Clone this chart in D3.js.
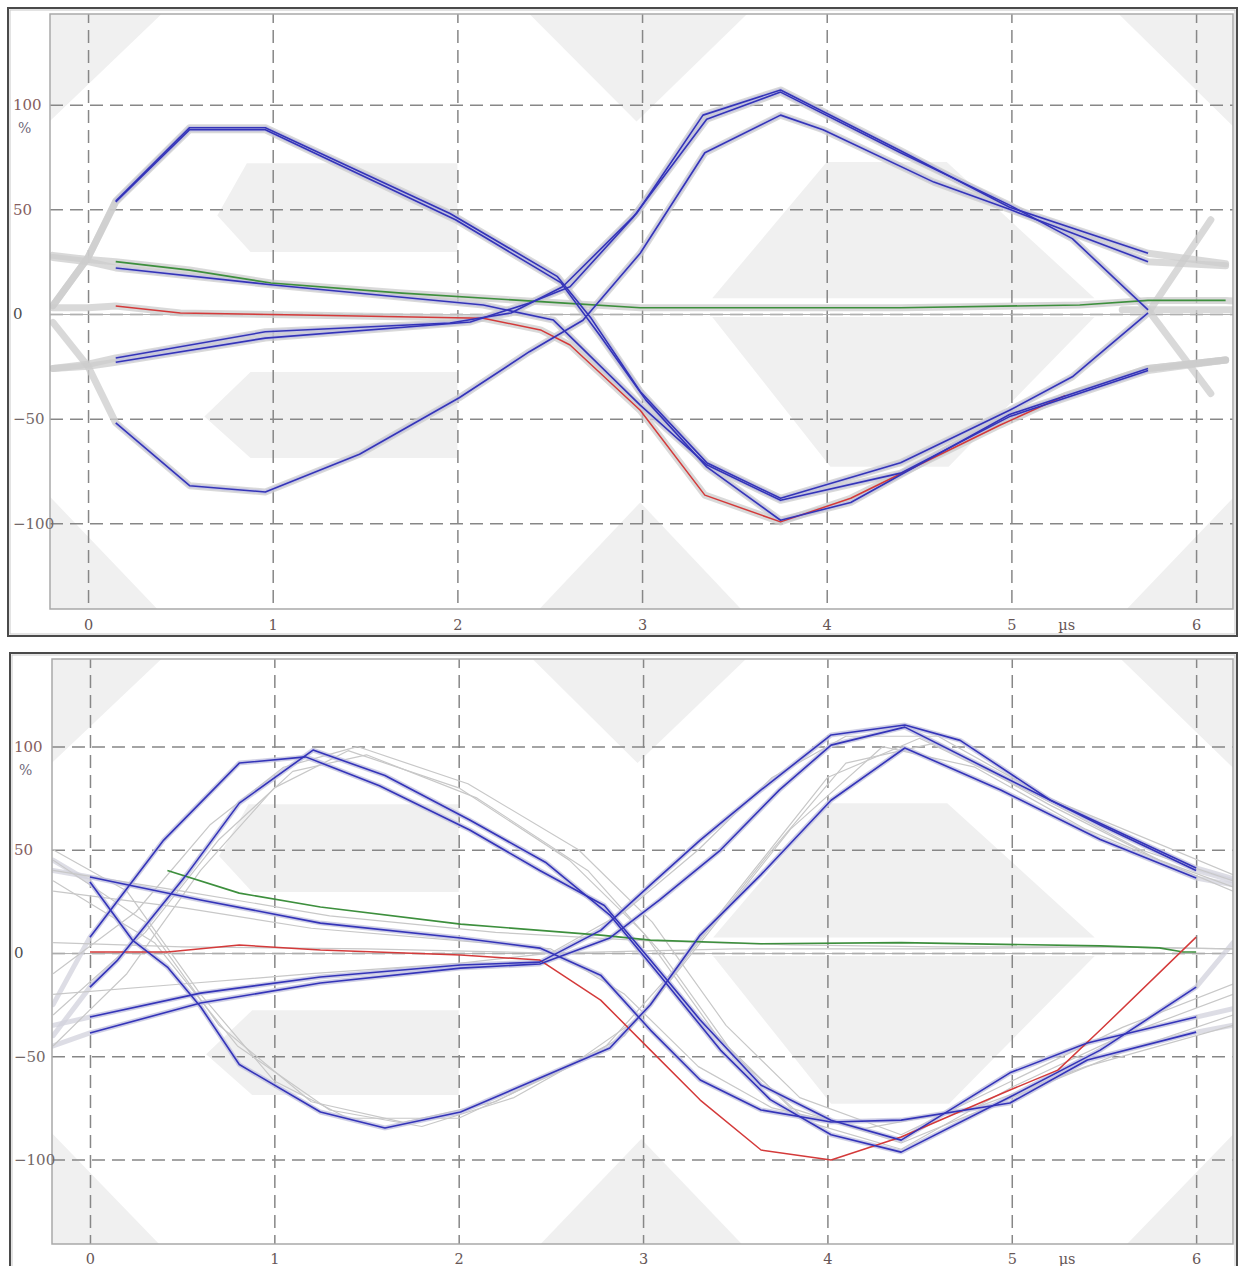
<!DOCTYPE html>
<html><head><meta charset="utf-8">
<script src="https://cdn.jsdelivr.net/npm/d3@7"></script>
<style>body{margin:0;background:#fff}svg{display:block}</style>
</head><body>
<svg id="c" width="1238" height="1266"></svg>
<script>
// ---------------- DATA ----------------
const xTickValues = [0, 1, 2, 3, 4, 5, 6];
const yTickValues = [100, 50, 0, -50, -100];
const xUnitLabel = "µs";
const yUnitLabel = "%";
const xDomain = [-0.206, 6.2];

// eye-mask regions (µs, %)
const maskTopLeft = [[-0.22,146],[0.43,146],[-0.22,91]];
const maskBottomLeft = [[-0.22,-146],[0.43,-146],[-0.22,-86]];
const maskTopMid = [[2.36,146],[3.60,146],[2.97,92]];
const maskBottomMid = [[2.39,-146],[3.59,-146],[2.99,-90]];
const maskTopRight = [[5.55,146],[6.22,146],[6.22,88]];
const maskBottomRight = [[5.57,-146],[6.22,-146],[6.22,-86]];
const maskEyeLeftUpper = [[0.86,72],[2.0,72],[2.0,29.6],[0.88,29.6],[0.70,47]];
const maskEyeLeftLower = [[0.88,-27.7],[2.0,-27.7],[2.0,-68.8],[0.88,-68.8],[0.63,-49]];
const maskEyeRightUpper = [[3.38,7.5],[4.0,72.6],[4.65,72.6],[5.45,7.5]];
const maskEyeRightLower = [[3.38,-1.4],[5.45,-1.4],[4.66,-73],[4.02,-73]];

// ---- top panel traces ----
const topBlueA = [[0.15,54],[0.55,89],[0.96,89],[1.96,48],[2.54,18],[2.72,-1.5],[2.99,-37],[3.35,-71],[3.75,-88],[4.40,-71],[4.99,-46],[5.33,-30],[5.74,0.5]];
const topBlueB = [[0.15,53.5],[0.55,88],[0.96,88],[1.99,45],[2.56,15],[2.77,-10],[3.02,-41],[3.35,-73],[3.75,-98.5],[4.13,-90],[4.99,-48],[5.74,-26]];
const topBlueC = [[0.15,22],[0.99,14],[2.14,4.3],[2.52,-2.9],[2.66,-15],[2.99,-43.5],[3.35,-72],[3.75,-89],[4.40,-76],[4.99,-49],[5.74,-27]];
const topBlueD = [[0.15,-21],[0.96,-8.5],[1.96,-4.3],[2.29,0.5],[2.57,13],[2.97,48],[3.33,95],[3.75,107],[4.40,78],[4.99,51],[5.74,29]];
const topBlueE = [[0.15,-23],[0.96,-11.5],[2.07,-3.8],[2.39,5.3],[2.61,13],[2.95,46],[3.35,93],[3.75,106],[4.40,77],[4.99,52],[5.33,36],[5.74,2]];
const topBlueF = [[0.15,-52],[0.55,-82],[0.96,-85],[1.47,-67],[2.01,-40],[2.39,-18],[2.68,-3],[2.99,29],[3.34,77],[3.75,95],[3.98,88],[4.58,63],[4.99,50],[5.74,25]];
const topRed = [[0.15,3.8],[0.5,0.5],[1.15,-0.5],[2.14,-2],[2.45,-7.6],[2.61,-14.8],[2.99,-46],[3.34,-86.5],[3.75,-99.3],[4.13,-88],[4.94,-53],[5.29,-39]];
const topGreen = [[0.15,25],[0.55,21],[0.99,14.8],[1.7,10],[2.56,5.3],[2.99,3],[3.75,3],[4.40,3],[5.37,4.3],[5.74,6.5],[6.16,6.5]];

const topGreyA = [[-0.19,4],[0,27],...topBlueA,[6.08,45]];
const topGreyB = [[-0.19,4],[0,27],...topBlueB,[6.16,-22]];
const topGreyC = [[-0.19,27],[0,25],...topBlueC,[6.16,-22]];
const topGreyD = [[-0.19,-26],[0,-24],...topBlueD,[6.16,24]];
const topGreyE = [[-0.19,-26],[0,-25],...topBlueE,[6.08,-38]];
const topGreyF = [[-0.19,-4],[0,-25],...topBlueF,[6.16,23]];
const topGreyRed = [[-0.19,3],[0,3],...topRed,[5.74,-26],[6.16,-22]];
const topGreyGreen = [[-0.19,28],[0,26],...topGreen,[6.22,6]];
const topGreyFlat = [[5.6,2],[6.22,2]];

// ---- bottom panel traces ----
const botBlueA = [[0,7.7],[0.40,54.7],[0.81,92],[1.17,95],[1.57,81],[2.06,59.6],[2.44,40],[2.79,23],[3.04,-3.4],[3.31,-32.4],[3.64,-64],[4.02,-81],[4.40,-90.6],[4.99,-58],[5.41,-43.6],[6.0,-31]];
const botBlueB = [[0,-16.5],[0.15,-3.4],[0.53,38.7],[0.81,72.6],[1.21,98.3],[1.60,86],[2.06,64.4],[2.47,44],[2.82,18.4],[3.09,-10.7],[3.42,-47],[3.69,-71],[4.02,-88],[4.40,-96.4],[4.99,-69.7],[5.48,-47],[6.0,-16.5]];
const botBlueC = [[0,34.4],[0.23,6.3],[0.42,-6.8],[0.60,-26],[0.81,-54],[1.25,-77],[1.60,-84.7],[2.01,-77],[2.44,-60.5],[2.82,-46],[3.04,-25],[3.31,8.7],[3.64,38],[4.02,74],[4.42,99.3],[4.94,79],[5.48,55],[6.0,36.3]];
const botBlueD = [[0,-31],[0.60,-19.4],[1.25,-11.6],[2.01,-5.8],[2.44,-4.4],[2.77,11],[3.04,33],[3.31,54.7],[3.64,79],[4.02,105.6],[4.42,110.4],[4.72,103],[5.21,74],[6.0,41.2]];
const botBlueE = [[0,-38.7],[0.60,-24.2],[1.25,-14.5],[2.01,-7.3],[2.44,-5.3],[2.82,7.3],[3.09,25.7],[3.42,49.9],[3.74,79],[4.02,100.7],[4.42,109.4],[4.94,86],[5.48,62],[6.0,40]];
const botBlueF = [[0,36.8],[0.60,25.7],[1.25,14.5],[2.01,7.3],[2.44,2.4],[2.77,-10.7],[3.04,-37.3],[3.31,-61.5],[3.64,-76],[4.02,-81.8],[4.40,-80.9],[4.99,-72.6],[5.41,-51.8],[6.0,-38.3]];
const botRed = [[0,0.5],[0.42,0.5],[0.81,3.9],[1.25,1.5],[2.01,-1],[2.44,-3.4],[2.77,-22.8],[3.04,-47],[3.31,-71.2],[3.64,-95.4],[4.02,-100.2],[4.40,-89.1],[4.99,-66.3],[5.25,-56.7],[5.48,-37.3],[6.0,7.7]];
const botGreen = [[0.42,40],[0.81,29],[1.25,22.3],[2.01,14],[2.44,11],[2.77,8.7],[3.04,6.3],[3.64,4.5],[4.40,5],[5.48,3.5],[5.8,2.5],[5.93,0.5],[6.0,0.5]];

const botGreyA = [[-0.2,-25],...botBlueA,[6.2,-27]];
const botGreyB = [[-0.2,-40],...botBlueB,[6.2,5]];
const botGreyC = [[-0.2,45],...botBlueC,[6.2,33]];
const botGreyD = [[-0.2,-35],...botBlueD,[6.2,36]];
const botGreyE = [[-0.2,-45],...botBlueE,[6.2,35]];
const botGreyF = [[-0.2,40],...botBlueF,[6.2,-35]];
const botGreyExtra1 = [[-0.2,-45],[0.2,-10],[0.6,40],[1.0,80],[1.4,98],[2.0,80],[2.6,45],[3.0,10],[3.4,-40],[3.8,-75],[4.4,-92],[5.0,-70],[5.6,-48],[6.2,-30]];
const botGreyExtra2 = [[-0.2,-30],[0.3,10],[0.7,55],[1.1,88],[1.5,96],[2.1,75],[2.7,40],[3.1,0],[3.5,-50],[3.9,-82],[4.4,-95],[5.0,-65],[5.6,-40],[6.2,-20]];
const botGreyExtra3 = [[-0.2,50],[0.2,30],[0.6,-20],[1.0,-62],[1.4,-80],[2.0,-80],[2.6,-55],[3.0,-30],[3.4,15],[3.8,60],[4.3,100],[4.8,90],[5.4,60],[6.2,30]];
const botGreyExtra4 = [[-0.2,45],[0.3,15],[0.7,-35],[1.2,-72],[1.7,-82],[2.2,-72],[2.8,-45],[3.2,-5],[3.6,40],[4.0,85],[4.5,104],[5.1,78],[5.7,50],[6.2,35]];
const botGreyExtra5 = [[-0.2,30],[0.5,22],[1.2,12],[2.0,6],[2.5,2],[2.9,-20],[3.3,-55],[3.7,-75],[4.2,-85],[4.8,-75],[5.4,-55],[6.2,-35]];
const botGreyExtra6 = [[-0.2,-20],[0.5,-15],[1.2,-10],[2.0,-5],[2.5,0],[2.9,20],[3.3,50],[3.7,85],[4.1,105],[4.6,105],[5.2,75],[6.2,38]];
const botGreyExtra7 = [[-0.2,5],[0.5,3],[1.5,2],[2.5,0],[3.5,2],[4.5,2],[5.5,3],[6.2,2]];
const botGreyExtra8 = [[-0.2,40],[0.5,30],[1.3,18],[2.2,10],[3.0,6],[3.8,4],[4.6,3],[5.5,3],[6.2,2]];
const botGreyExtra9 = [[-0.2,-10],[0.25,20],[0.65,62],[1.05,90],[1.45,100],[2.05,82],[2.65,50],[3.05,15],[3.45,-35],[3.85,-70],[4.4,-88],[5.0,-62],[5.6,-36],[6.2,-15]];
const botGreyExtra10 = [[-0.2,35],[0.35,5],[0.8,-45],[1.3,-76],[1.8,-84],[2.3,-70],[2.9,-40],[3.3,5],[3.7,50],[4.1,92],[4.6,102],[5.2,72],[5.8,45],[6.2,32]];

// ---------------- DRAWING ----------------
const svg = d3.select("#c");
const FONT = "'DejaVu Serif', serif";

function drawPanel(o) {
  const g = svg.append("g");
  const x = d3.scaleLinear().domain(xDomain).range([o.plot.x0, o.plot.x1]);
  const y = d3.scaleLinear().domain(o.yDomain).range([o.plot.y1, o.plot.y0]);
  const line = d3.line().x(d => x(d[0])).y(d => y(d[1]));
  const pw = o.plot.x1 - o.plot.x0, ph = o.plot.y1 - o.plot.y0;

  g.append("rect").attr("x", o.frame.x0).attr("y", o.frame.y0)
    .attr("width", o.frame.x1 - o.frame.x0).attr("height", o.frame.y1 - o.frame.y0)
    .attr("fill", "#fff").attr("stroke", "#4a4a4a").attr("stroke-width", 2);
  g.append("rect").attr("x", o.frame.x0 + 2).attr("y", o.frame.y0 + 2)
    .attr("width", o.frame.x1 - o.frame.x0 - 4).attr("height", o.frame.y1 - o.frame.y0 - 4)
    .attr("fill", "none").attr("stroke", "#c8c8c8").attr("stroke-width", 1);

  svg.append("defs").append("clipPath").attr("id", o.id)
    .append("rect").attr("x", o.plot.x0).attr("y", o.plot.y0).attr("width", pw).attr("height", ph);

  g.append("rect").attr("x", o.plot.x0).attr("y", o.plot.y0).attr("width", pw).attr("height", ph)
    .attr("fill", "#fff");

  const pg = g.append("g").attr("clip-path", `url(#${o.id})`);

  const masks = [maskTopLeft, maskBottomLeft, maskTopMid, maskBottomMid, maskTopRight, maskBottomRight,
                 maskEyeLeftUpper, maskEyeLeftLower, maskEyeRightUpper, maskEyeRightLower];
  pg.append("g").selectAll("path").data(masks).join("path")
    .attr("d", d => line(d) + "Z").attr("fill", "#f0f0f0").attr("stroke", "none");

  const gv = pg.append("g").attr("transform", `translate(0,${o.plot.y0})`)
    .call(d3.axisBottom(x).tickValues(xTickValues).tickSize(ph).tickFormat(""));
  const gh = pg.append("g").attr("transform", `translate(${o.plot.x0},0)`)
    .call(d3.axisRight(y).tickValues(yTickValues).tickSize(pw).tickFormat(""));
  [gv, gh].forEach(a => {
    a.select(".domain").remove();
    a.selectAll("line").attr("stroke", "#878787").attr("stroke-width", 1.5).attr("stroke-dasharray", "13,7");
  });
  gv.selectAll("line").attr("stroke-dashoffset", 4);
  pg.append("line").attr("x1", o.plot.x0).attr("x2", o.plot.x1).attr("y1", y(0) + 0.5).attr("y2", y(0) + 0.5)
    .attr("stroke", "#b0b0b0").attr("stroke-width", 1);

  pg.append("g").selectAll("path").data(o.greyWide).join("path")
    .attr("d", line).attr("fill", "none").attr("stroke", o.greyWideColor)
    .attr("stroke-width", o.greyWideWidth).attr("stroke-opacity", 0.75)
    .attr("stroke-linejoin", "round").attr("stroke-linecap", "round");
  pg.append("g").selectAll("path").data(o.greyThin).join("path")
    .attr("d", line).attr("fill", "none").attr("stroke", "#c8c8c8")
    .attr("stroke-width", 1.2).attr("stroke-linejoin", "round");

  pg.append("g").selectAll("path").data(o.blue).join("path")
    .attr("d", line).attr("fill", "none").attr("stroke", "#b8b8ec")
    .attr("stroke-width", 4).attr("stroke-opacity", 0.5).attr("stroke-linejoin", "round");
  pg.append("path").datum(o.green).attr("d", line).attr("fill", "none")
    .attr("stroke", "#3d8f3d").attr("stroke-width", 1.7).attr("stroke-linejoin", "round");
  pg.append("path").datum(o.red).attr("d", line).attr("fill", "none")
    .attr("stroke", "#d43a3a").attr("stroke-width", 1.5).attr("stroke-linejoin", "round");
  pg.append("g").selectAll("path").data(o.blue).join("path")
    .attr("d", line).attr("fill", "none").attr("stroke", "#3434b8")
    .attr("stroke-width", 1.6).attr("stroke-linejoin", "round");

  g.append("rect").attr("x", o.plot.x0).attr("y", o.plot.y0).attr("width", pw).attr("height", ph)
    .attr("fill", "none").attr("stroke", "#a9a9a9").attr("stroke-width", 1.5);

  const ax = g.append("g").attr("transform", `translate(0,${o.plot.y1})`)
    .call(d3.axisBottom(x).tickValues(xTickValues).tickSize(0).tickPadding(o.xPad).tickFormat(d3.format("d")));
  ax.select(".domain").remove();
  ax.selectAll("text").attr("font-family", FONT).attr("font-size", 14.5).attr("fill", "#665656");
  const ay = g.append("g").attr("transform", `translate(${o.plot.x0},0)`)
    .call(d3.axisLeft(y).tickValues(yTickValues).tickSize(0).tickFormat(d3.format("d")));
  ay.select(".domain").remove();
  ay.selectAll("text").attr("font-family", FONT).attr("font-size", 15)
    .attr("text-anchor", "start").attr("x", o.labelX - o.plot.x0)
    .attr("fill", d => d > 0 ? "#855e5e" : (d === 0 ? "#4e4e4e" : "#736868"));

  g.append("text").attr("x", o.labelX + 5).attr("y", y(100) + 24).attr("dy", "0.32em")
    .attr("font-family", FONT).attr("font-size", 14).attr("fill", "#6f6878").text(yUnitLabel);
  g.append("text").attr("x", x(5.3)).attr("y", o.plot.y1 + o.xPad).attr("dy", "0.71em")
    .attr("text-anchor", "middle").attr("font-family", FONT).attr("font-size", 14.5)
    .attr("fill", "#665656").text(xUnitLabel);
}

drawPanel({
  id: "clipTop",
  frame: {x0: 8, y0: 8, x1: 1237, y1: 636},
  plot: {x0: 50, y0: 14, x1: 1233, y1: 609},
  yDomain: [-140.9, 143.3],
  labelX: 13, xPad: 11,
  greyWide: [topGreyA, topGreyB, topGreyC, topGreyD, topGreyE, topGreyF, topGreyRed, topGreyGreen, topGreyFlat],
  greyWideColor: "#cccccc", greyWideWidth: 7,
  greyThin: [],
  blue: [topBlueA, topBlueB, topBlueC, topBlueD, topBlueE, topBlueF],
  red: topRed, green: topGreen
});

drawPanel({
  id: "clipBot",
  frame: {x0: 10, y0: 653, x1: 1237, y1: 1275},
  plot: {x0: 52, y0: 659, x1: 1233, y1: 1244},
  yDomain: [-140.9, 142.4],
  labelX: 14, xPad: 10,
  greyWide: [botGreyA, botGreyB, botGreyC, botGreyD, botGreyE, botGreyF],
  greyWideColor: "#d2d2dc", greyWideWidth: 5,
  greyThin: [botGreyExtra1, botGreyExtra2, botGreyExtra3, botGreyExtra4, botGreyExtra5, botGreyExtra6,
             botGreyExtra7, botGreyExtra8, botGreyExtra9, botGreyExtra10],
  blue: [botBlueA, botBlueB, botBlueC, botBlueD, botBlueE, botBlueF],
  red: botRed, green: botGreen
});
</script>
</body></html>
